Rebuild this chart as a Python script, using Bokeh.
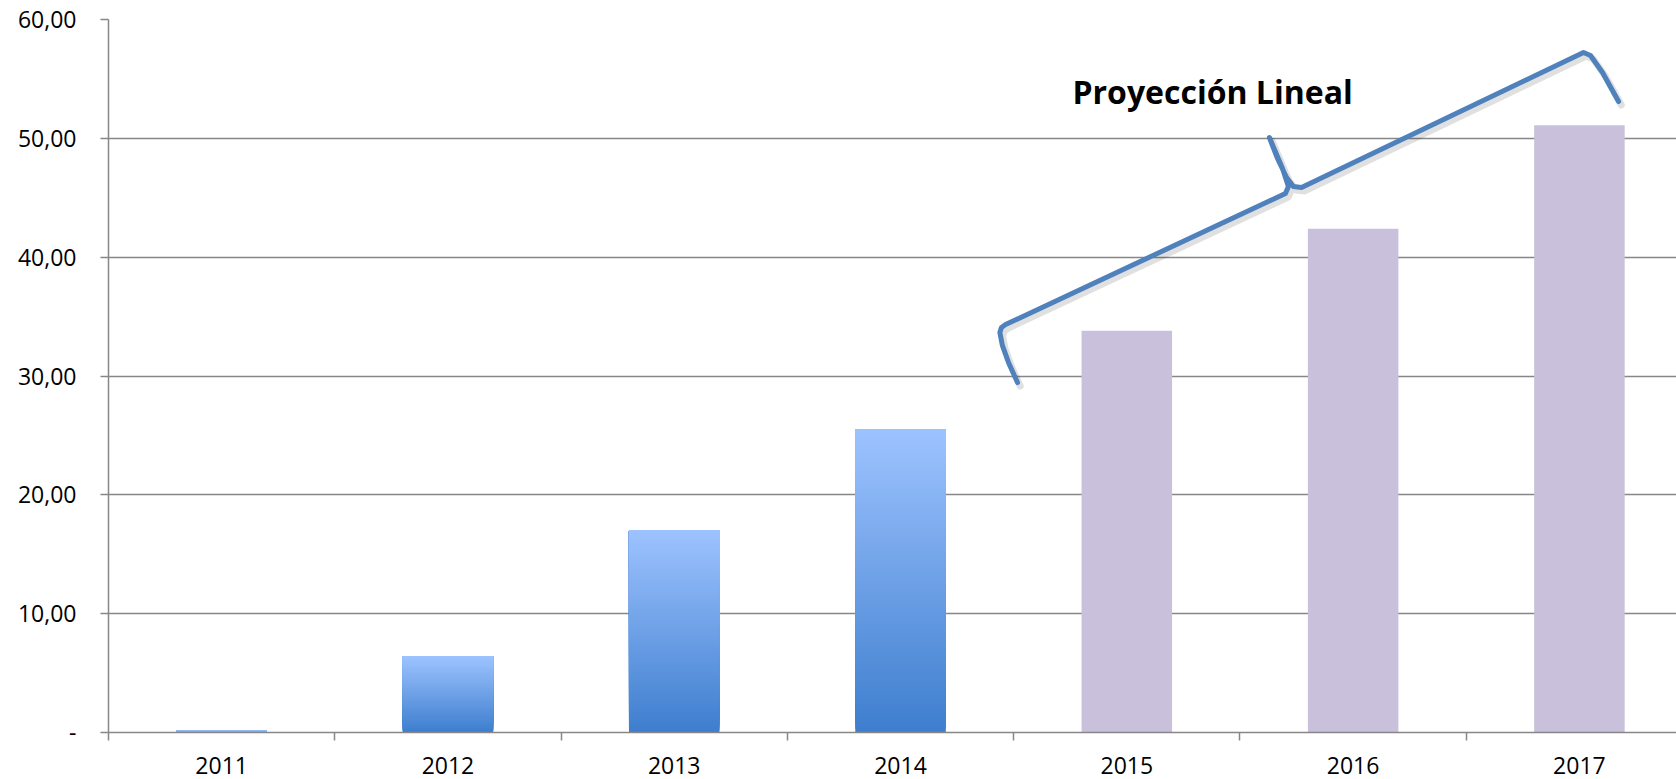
from bokeh.plotting import figure
from bokeh.models import FixedTicker, Range1d, ColumnDataSource
from bokeh.core.properties import value
from bokeh.embed import file_html
from bokeh.resources import INLINE

# ---- data ----
years = ["2011", "2012", "2013", "2014", "2015", "2016", "2017"]
values = [0.15, 6.4, 17.0, 25.5, 33.8, 42.4, 51.1]
projected = [False, False, False, False, True, True, True]
y_ticks = [0, 10, 20, 30, 40, 50, 60]
y_tick_labels = ["-", "10,00", "20,00", "30,00", "40,00", "50,00", "60,00"]
annotation_text = "Proyección Lineal"

# annotation bracket path (data space: category index, value)
bracket_x = [3.517, 3.477, 3.450, 3.439, 3.446, 3.464, 4.701, 4.714, 4.688, 4.630,
             4.666, 4.706, 4.736, 4.772, 6.018, 6.049, 6.102, 6.173]
bracket_y = [29.45, 31.14, 32.57, 33.66, 34.08, 34.33, 45.36, 45.95, 47.46, 50.07,
             48.30, 46.70, 45.95, 45.86, 57.22, 56.97, 55.54, 53.10]
annotation_pos = (4.379, 53.95)

# ---- styles ----
GRID = "#878787"
PURPLE = "#C9C1DB"
TOP_BLUE = (157, 195, 255)
BOTTOM_BLUE = (62, 126, 206)
BRACKET = "#4F81BD"
FONT = "Open Sans"
BAR_W = 0.40

p = figure(width=1676, height=779, output_backend="svg", toolbar_location=None,
           x_range=Range1d(-0.5, 6.429), y_range=Range1d(0, 60),
           min_border_left=108, min_border_right=0, min_border_top=19,
           min_border_bottom=47)
p.outline_line_color = None
p.background_fill_color = "white"
p.border_fill_color = "white"

# grid
p.xgrid.visible = False
p.ygrid.ticker = FixedTicker(ticks=y_ticks)
p.ygrid.grid_line_color = GRID
p.ygrid.grid_line_width = 1.5

# y axis
p.yaxis.ticker = FixedTicker(ticks=y_ticks)
p.yaxis.major_label_overrides = {t: l for t, l in zip(y_ticks, y_tick_labels)}
p.yaxis.axis_line_color = GRID
p.yaxis.axis_line_width = 1.5
p.yaxis.major_tick_line_color = GRID
p.yaxis.major_tick_line_width = 1.5
p.yaxis.major_tick_in = 0
p.yaxis.major_tick_out = 8
p.yaxis.minor_tick_line_color = None
p.yaxis.major_label_standoff = 24
p.yaxis.major_label_text_font = FONT
p.yaxis.major_label_text_font_size = "23px"
p.yaxis.major_label_text_color = "#000000"

# x axis
idx = list(range(len(years)))
p.xaxis.ticker = FixedTicker(ticks=idx, minor_ticks=[i - 0.5 for i in idx] + [6.5])
p.xaxis.major_label_overrides = {i: y for i, y in zip(idx, years)}
p.xaxis.axis_line_color = GRID
p.xaxis.axis_line_width = 1.5
p.xaxis.major_tick_line_color = None
p.xaxis.minor_tick_line_color = GRID
p.xaxis.minor_tick_line_width = 1.5
p.xaxis.minor_tick_in = 0
p.xaxis.minor_tick_out = 8
p.xaxis.major_tick_out = 8
p.xaxis.major_tick_in = 0
p.xaxis.major_label_standoff = 16
p.xaxis.major_label_text_font = FONT
p.xaxis.major_label_text_font_size = "23px"
p.xaxis.major_label_text_color = "#000000"

# projected bars (flat purple)
px = [i for i in idx if projected[i]]
pv = [values[i] for i in idx if projected[i]]
p.vbar(x=px, top=pv, bottom=0, width=BAR_W, fill_color=PURPLE, line_color=None)

# actual bars with vertical gradient (overlapping strips, bottom to top)
N = 80
gx, gb, gt, gc = [], [], [], []
for k in range(N):
    f = (k + 0.5) / N  # 0 bottom -> 1 top
    c = tuple(int(round(BOTTOM_BLUE[j] + (TOP_BLUE[j] - BOTTOM_BLUE[j]) * f)) for j in range(3))
    for i in idx:
        if projected[i]:
            continue
        v = values[i]
        gx.append(i)
        gb.append(v * k / N)
        gt.append(v)
        gc.append("#%02x%02x%02x" % c)
src = ColumnDataSource(dict(x=gx, bottom=gb, top=gt, color=gc))
p.vbar(x="x", bottom="bottom", top="top", width=BAR_W, fill_color="color",
       line_color=None, source=src)

# bracket annotation with soft shadow
p.line([x + 0.012 for x in bracket_x], [y - 0.30 for y in bracket_y],
       line_color="#000000", line_alpha=0.12, line_width=7,
       line_join="round", line_cap="round")
p.line(bracket_x, bracket_y, line_color=BRACKET, line_width=5,
       line_join="round", line_cap="round")

p.text(x=[annotation_pos[0]], y=[annotation_pos[1]], text=[annotation_text],
       text_font=value(FONT), text_font_style="bold", text_font_size="32px",
       text_align="center", text_baseline="alphabetic", text_color="#000000")

open("out.html", "w").write(file_html(p, INLINE))
